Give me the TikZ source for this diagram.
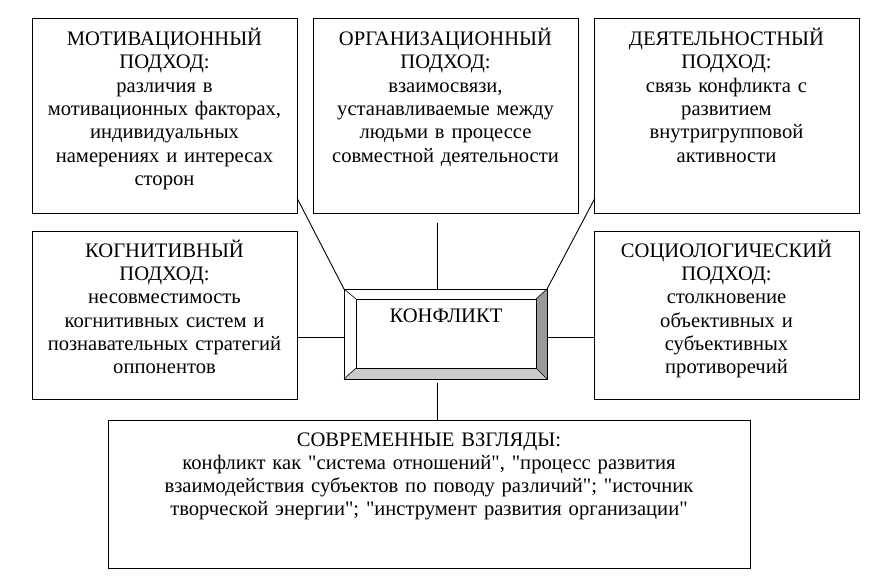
\documentclass[tikz,border=0pt]{standalone}
\usepackage{fontspec}
\setmainfont{Liberation Serif}[Ligatures=TeXOff]
\begin{document}
\begin{tikzpicture}[x=1pt,y=-1pt,
  box/.style={draw=black,line width=1pt,inner sep=0pt,outer sep=0pt,anchor=north west},
  txt/.style={anchor=base,align=center,text width=#1,inner sep=0pt,font=\fontsize{20.6}{23.3}\selectfont},
  txt/.default=260pt,
  conn/.style={draw=black,line width=0.9pt}]
\useasboundingbox[fill=white] (0,0) rectangle (890,584);
% boxes
\node[box,minimum width=265pt,minimum height=195pt] (mot) at (32,18) {};
\node[box,minimum width=265pt,minimum height=195pt] (org) at (313,18) {};
\node[box,minimum width=265pt,minimum height=195pt] (dey) at (594,18) {};
\node[box,minimum width=265pt,minimum height=168pt] (kog) at (32,231) {};
\node[box,minimum width=265pt,minimum height=168pt] (soc) at (594,231) {};
\node[box,minimum width=642pt,minimum height=148pt] (sov) at (108,420) {};
% texts
\node[txt] (motT) at (164.5,45.5) {МОТИВАЦИОННЫЙ\\ПОДХОД:\\различия в\\мотивационных факторах,\\индивидуальных\\намерениях и интересах\\сторон};
\node[txt] (orgT) at (445.5,45.5) {ОРГАНИЗАЦИОННЫЙ\\ПОДХОД:\\взаимосвязи,\\устанавливаемые между\\людьми в процессе\\совместной деятельности};
\node[txt] (deyT) at (726.5,45.5) {ДЕЯТЕЛЬНОСТНЫЙ\\ПОДХОД:\\связь конфликта с\\развитием\\внутригрупповой\\активности};
\node[txt] (kogT) at (164.5,257.3) {КОГНИТИВНЫЙ\\ПОДХОД:\\несовместимость\\когнитивных систем и\\познавательных стратегий\\оппонентов};
\node[txt] (socT) at (726.5,257.3) {СОЦИОЛОГИЧЕСКИЙ\\ПОДХОД:\\столкновение\\объективных и\\субъективных\\противоречий};
\node[txt=636pt] (sovT) at (429,446) {СОВРЕМЕННЫЕ ВЗГЛЯДЫ:\\конфликт как "система отношений", "процесс развития\\взаимодействия субъектов по поводу различий"; "источник\\творческой энергии"; "инструмент развития организации"};
% central bevel box
\node[box,minimum width=203pt,minimum height=90pt] (k) at (344,289) {};
\coordinate (kiNW) at (356,299);
\coordinate (kiNE) at (536,299);
\coordinate (kiSW) at (356,368);
\coordinate (kiSE) at (536,368);
\fill[white] (k.north west) -- (k.north east) -- (kiNE) -- (kiNW) -- cycle;
\fill[white] (k.north west) -- (kiNW) -- (kiSW) -- (k.south west) -- cycle;
\fill[black!40] (k.north east) -- (k.south east) -- (kiSE) -- (kiNE) -- cycle;
\fill[black!20] (k.south west) -- (kiSW) -- (kiSE) -- (k.south east) -- cycle;
\draw[line width=1pt] (k.north west) rectangle (k.south east);
\draw[line width=1pt] (kiNW) rectangle (kiSE);
\draw[line width=0.6pt] (k.north west) -- (kiNW) (k.north east) -- (kiNE) (k.south west) -- (kiSW) (k.south east) -- (kiSE);
\node[txt=170pt] (kT) at (446,322) {КОНФЛИКТ};
% connectors
\coordinate (c1) at (297,198);
\coordinate (c2) at (595,198);
\coordinate (c3a) at (437,223);
\coordinate (c3b) at (437,289);
\coordinate (c4a) at (297,337);
\coordinate (c4b) at (344,337);
\coordinate (c5a) at (547,337);
\coordinate (c5b) at (594,337);
\coordinate (c6a) at (437,383);
\coordinate (c6b) at (437,420);
\draw[conn] (c1) -- (k.north west);
\draw[conn] (c2) -- (k.north east);
\draw[conn] (c3a) -- (c3b);
\draw[conn] (c4a) -- (c4b);
\draw[conn] (c5a) -- (c5b);
\draw[conn] (c6a) -- (c6b);
\end{tikzpicture}
\end{document}
